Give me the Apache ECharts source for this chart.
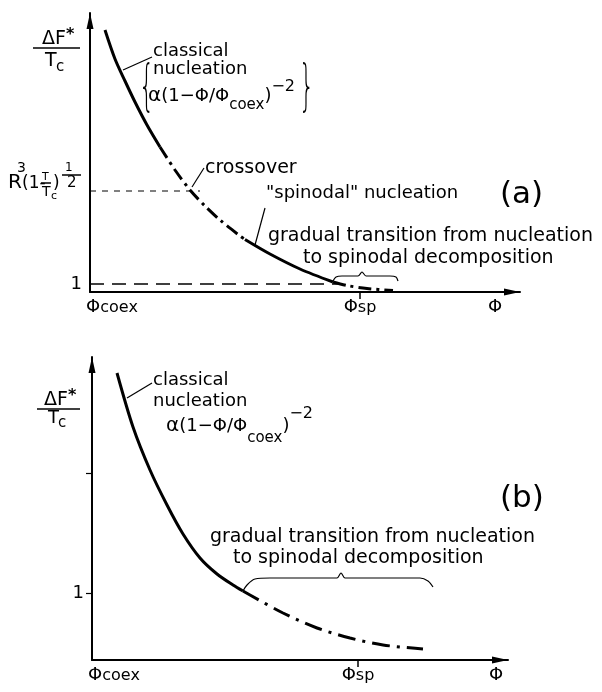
<!DOCTYPE html>
<html>
<head>
<meta charset="utf-8">
<script src="https://cdn.jsdelivr.net/npm/echarts@6/dist/echarts.min.js"></script>
<style>
html, body { margin: 0; background: #fff; }
#chart { width: 602px; height: 692px; }
</style>
</head>
<body>
<div id="chart"></div>
<script>
// schematic units: x = distance from phi_coex, y = barrier dF*/Tc (arbitrary)
// panel (a)
const aSolid1 = [[15, 262], [25, 233], [35, 211], [45, 190], [57, 167], [70, 145]];
const aDash1 = [[70, 145], [85, 122], [100, 102], [115, 86], [130, 72], [150, 56], [155, 52.5]];
const aSolid2 = [[155, 52.5], [180, 38], [210, 23], [243, 10]];
const aDash2 = [[243, 10], [257, 6.5], [277, 3.5], [303, 1.5]];
const aOneLevel = [[0, 8], [248, 8]];
const aCrossLevel = [[0, 101], [110, 101]];
const aLeaderClassical = [[33, 222], [62, 235]];
const aLeaderCross = [[102, 105], [114, 124]];
const aLeaderSpinodal = [[165, 47], [175, 84]];
const aBrace = [[243, 11], [246, 15], [252, 16], [268, 16], [272, 20], [276, 16], [300, 16], [306, 15], [308, 11]];
const aXTickValues = [0, 270, 405];
const aYTickValues = [8];

// panel (b)
const bSolid = [[25, 287], [41, 233], [58, 190], [75, 155], [91, 126], [108, 102], [125, 86], [141, 75], [151, 69]];
const bDash = [[151, 69], [158, 65], [191, 47], [225, 32], [258, 22], [291, 15], [331, 11]];
const bLeaderClassical = [[35, 262], [60, 277]];
const bBrace = [[151, 69], [155, 75], [163, 81], [178, 82], [245, 82], [249, 87], [253, 82], [328, 82], [336, 79], [341, 73]];
const bXTickValues = [0, 266, 404];
const bYTickValues = [67, 187];

const xTickMain = ['Φ', 'Φ', 'Φ'];
const xTickSub = ['coex', 'sp', ''];
const yTickLabels = ['1', ''];

const FONT = 'DejaVu Sans';
const BLACK = '#000';

function xLabel(values) {
    return function (v) {
        const i = values.indexOf(v);
        if (i < 0) return '';
        const first = i === 0 ? 'p0' : 'p';
        return '{' + first + '|' + xTickMain[i] + '}' + (xTickSub[i] ? '{s|' + xTickSub[i] + '}' : '');
    };
}

function yLabel(values) {
    return function (v) {
        const i = values.indexOf(v);
        return i < 0 ? '' : yTickLabels[i];
    };
}

const xRich = {
    p0: { fontSize: 18, fontFamily: FONT, color: BLACK, lineHeight: 18, verticalAlign: 'top', padding: [0, 0, 0, 44] },
    p: { fontSize: 18, fontFamily: FONT, color: BLACK, lineHeight: 18, verticalAlign: 'top' },
    s: { fontSize: 16, fontFamily: FONT, color: BLACK, lineHeight: 16, verticalAlign: 'bottom' }
};

function xAxis(grid, max, ticks, tickAt) {
    return {
        type: 'value', gridIndex: grid, min: 0, max: max,
        axisLine: { show: true, symbol: ['none', 'triangle'], symbolSize: [7, 16], symbolOffset: [0, -8],
            lineStyle: { color: BLACK, width: 2 } },
        axisTick: { show: true, customValues: [tickAt], length: 7, lineStyle: { color: BLACK, width: 1.5 } },
        axisLabel: { show: true, customValues: ticks, formatter: xLabel(ticks), rich: xRich, margin: 6 },
        splitLine: { show: false }
    };
}

function yAxis(grid, max, ticks, tickVals) {
    return {
        type: 'value', gridIndex: grid, min: 0, max: max,
        axisLine: { show: true, symbol: ['none', 'triangle'], symbolSize: [7, 16], symbolOffset: [0, -8],
            lineStyle: { color: BLACK, width: 2 } },
        axisTick: { show: tickVals.length > 0, customValues: tickVals, length: 6, lineStyle: { color: BLACK, width: 1.2 } },
        axisLabel: { show: true, customValues: ticks, formatter: yLabel(ticks), color: BLACK,
            fontSize: 18, fontFamily: FONT, margin: 8 },
        splitLine: { show: false }
    };
}

function line(grid, data, width, type, smooth) {
    return {
        type: 'line', xAxisIndex: grid, yAxisIndex: grid, data: data,
        symbol: 'none', smooth: smooth, silent: true,
        lineStyle: { color: BLACK, width: width, type: type }
    };
}

function txt(x, y, text, size, extra, scaleY) {
    return {
        type: 'text', x: x, y: y, silent: true, scaleY: scaleY || 1,
        style: Object.assign({
            text: text, fontSize: size, fontFamily: FONT, fill: BLACK,
            align: 'left', verticalAlign: 'middle', textAlign: 'left', textVerticalAlign: 'middle'
        }, extra || {})
    };
}

function bar(x1, x2, y) {
    return { type: 'line', silent: true, shape: { x1: x1, y1: y, x2: x2, y2: y },
        style: { stroke: BLACK, lineWidth: 1.5 } };
}

const formulaRich = function (lh) {
    return {
        a: { fontSize: 20, fontFamily: FONT, lineHeight: lh },
        m: { fontSize: 18, fontFamily: FONT, lineHeight: lh },
        s: { fontSize: 15, fontFamily: FONT, lineHeight: 18, verticalAlign: 'bottom' },
        p: { fontSize: 16, fontFamily: FONT, lineHeight: 18, verticalAlign: 'top' }
    };
};
const formulaText = '{a|α}{m|(1−Φ/Φ}{s|coex}{m|)}{p|−2}';
const starRich = {
    m: { fontSize: 19, fontFamily: FONT },
    s: { fontSize: 16, fontFamily: FONT, fontWeight: 'bold', verticalAlign: 'top', lineHeight: 24 }
};

const dashDot = [13, 5, 3, 5];

const chart = echarts.init(document.getElementById('chart'));
chart.setOption({
    backgroundColor: '#fff',
    animation: false,
    grid: [
        { left: 90, top: 13, width: 430, height: 279, outerBoundsMode: 'none' },
        { left: 92, top: 357, width: 416, height: 303, outerBoundsMode: 'none' }
    ],
    xAxis: [
        xAxis(0, 430, aXTickValues, 270),
        xAxis(1, 416, bXTickValues, 266)
    ],
    yAxis: [
        yAxis(0, 279, aYTickValues, []),
        yAxis(1, 303, bYTickValues, bYTickValues)
    ],
    series: [
        line(0, aSolid1, 3, 'solid', 0.3),
        line(0, aDash1, 3, dashDot, 0.3),
        line(0, aSolid2, 3, 'solid', 0.3),
        line(0, aDash2, 3, dashDot, 0.3),
        line(0, aOneLevel, 1.3, [14, 8], false),
        line(0, aCrossLevel, 1, [6, 6], false),
        line(0, aLeaderClassical, 1.2, 'solid', false),
        line(0, aLeaderCross, 1.2, 'solid', false),
        line(0, aLeaderSpinodal, 1.2, 'solid', false),
        line(0, aBrace, 1.2, 'solid', 0.3),
        line(1, bSolid, 3, 'solid', 0.3),
        line(1, bDash, 3, [18, 7, 3, 7], 0.3),
        line(1, bLeaderClassical, 1.2, 'solid', false),
        line(1, bBrace, 1.2, 'solid', 0.3)
    ],
    graphic: [
        // panel (a) axis title dF*/Tc
        txt(42, 39, '{m|ΔF}{s|*}', 19, { rich: starRich }),
        bar(33, 80, 48),
        txt(45, 61, 'T', 19),
        txt(56, 67, 'c', 15),
        // R^3 (1 - T/Tc)^(1/2)
        txt(8, 183, 'R', 20),
        txt(17, 168, '3', 14),
        txt(22, 184, '(1-', 17),
        txt(42, 177, 'T', 11),
        bar(41, 51, 183),
        txt(42, 192, 'T', 14),
        txt(51, 196, 'c', 11),
        txt(53, 184, ')', 17),
        txt(65, 168, '1', 12),
        bar(62, 81, 175),
        txt(67, 183, '2', 15),
        // annotations (a)
        txt(153, 51, 'classical', 18),
        txt(153, 69, 'nucleation', 18),
        txt(139, 90, '{', 24, { fontWeight: 200 }, 2.3),
        txt(148, 96, formulaText, 18, { rich: formulaRich(34) }),
        txt(299, 90, '}', 24, { fontWeight: 200 }, 2.3),
        txt(205, 168, 'crossover', 19),
        txt(266, 193, '"spinodal" nucleation', 18),
        txt(268, 236, 'gradual transition from nucleation', 19),
        txt(303, 258, 'to spinodal decomposition', 19),
        txt(500, 195, '(a)', 31),
        // panel (b) axis title
        txt(44, 400, '{m|ΔF}{s|*}', 19, { rich: starRich }),
        bar(37, 80, 409),
        txt(48, 418, 'T', 18),
        txt(58, 423, 'c', 15),
        // annotations (b)
        txt(153, 380, 'classical', 18),
        txt(153, 401, 'nucleation', 18),
        txt(166, 426, formulaText, 18, { rich: formulaRich(40) }),
        txt(210, 537, 'gradual transition from nucleation', 19),
        txt(233, 558, 'to spinodal decomposition', 19),
        txt(500, 499, '(b)', 31)
    ]
});
</script>
</body>
</html>
